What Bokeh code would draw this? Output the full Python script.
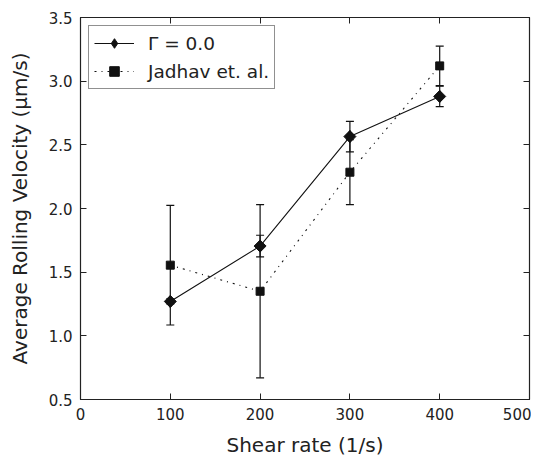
import math
from bokeh.plotting import figure
from bokeh.models import (ColumnDataSource, Whisker, TeeHead, Legend, LegendItem,
                          FixedTicker, NumeralTickFormatter, LinearAxis)
from bokeh.embed import file_html
from bokeh.resources import INLINE

shear = [100, 200, 300, 400]
gamma_v = [1.27, 1.705, 2.565, 2.88]
gamma_err = [0.02, 0.085, 0.12, 0.08]
jad_v = [1.555, 1.35, 2.285, 3.12]
jad_err = [0.47, 0.68, 0.255, 0.155]

x_ticks = [0, 100, 200, 300, 400, 500]
y_ticks = [0.5, 1.0, 1.5, 2.0, 2.5, 3.0, 3.5]

p = figure(width=531, height=459, output_backend="svg", toolbar_location=None,
           x_range=(0, 500), y_range=(0.5, 3.5), min_border_left=80,
           min_border_right=2, min_border_top=17, min_border_bottom=56)
p.background_fill_color = "white"
p.border_fill_color = "white"
p.grid.visible = False
p.outline_line_color = "#222222"
p.outline_line_width = 1.2

font = "DejaVu Sans"
for ax in (p.xaxis[0], p.yaxis[0]):
    ax.major_label_text_font = font
    ax.major_label_text_font_size = "15px"
    ax.major_label_text_color = "#222222"
    ax.axis_label_text_font = font
    ax.axis_label_text_font_size = "20px"
    ax.axis_label_text_font_style = "normal"
    ax.axis_label_text_color = "#222222"
    ax.major_tick_in = 6
    ax.major_tick_out = 0
    ax.minor_tick_in = 0
    ax.minor_tick_out = 0
    ax.axis_line_color = "#222222"
    ax.major_tick_line_color = "#222222"
p.xaxis.ticker = FixedTicker(ticks=x_ticks)
p.yaxis.ticker = FixedTicker(ticks=y_ticks)
p.xaxis.axis_label = "Shear rate (1/s)"
p.yaxis.axis_label = "Average Rolling Velocity (μm/s)"
p.yaxis.formatter = NumeralTickFormatter(format="0.0")
p.xaxis.major_label_standoff = 8
p.yaxis.major_label_standoff = 8
p.xaxis.axis_label_standoff = 10
p.yaxis.axis_label_standoff = 14

top = LinearAxis(ticker=FixedTicker(ticks=x_ticks), major_label_text_font_size="0px",
                 major_tick_in=6, major_tick_out=0, minor_tick_in=0, minor_tick_out=0,
                 axis_line_color="#222222", major_tick_line_color="#222222")
right = LinearAxis(ticker=FixedTicker(ticks=y_ticks), major_label_text_font_size="0px",
                   major_tick_in=6, major_tick_out=0, minor_tick_in=0, minor_tick_out=0,
                   axis_line_color="#222222", major_tick_line_color="#222222")
p.add_layout(top, "above")
p.add_layout(right, "right")

src_g = ColumnDataSource(dict(x=shear, y=gamma_v,
                              lo=[v - e for v, e in zip(gamma_v, gamma_err)],
                              hi=[v + e for v, e in zip(gamma_v, gamma_err)]))
src_j = ColumnDataSource(dict(x=shear, y=jad_v,
                              lo=[v - e for v, e in zip(jad_v, jad_err)],
                              hi=[v + e for v, e in zip(jad_v, jad_err)]))

for src in (src_j, src_g):
    w = Whisker(source=src, base="x", lower="lo", upper="hi", line_color="#111111",
                line_width=1.2,
                upper_head=TeeHead(size=8, line_color="#111111", line_width=1.2),
                lower_head=TeeHead(size=8, line_color="#111111", line_width=1.2))
    p.add_layout(w)

lj = p.line("x", "y", source=src_j, line_color="#111111", line_width=1.1, line_dash="2 5 1 5")
mj = p.scatter("x", "y", source=src_j, marker="square", size=8, fill_color="#111111",
               line_color="#111111")
lg = p.line("x", "y", source=src_g, line_color="#111111", line_width=1.1)
# diamond marker (used for the legend sample), covered by the rotated squares below
mg_leg = p.scatter("x", "y", source=src_g, marker="diamond", size=12,
                   fill_color="#111111", line_color="#111111")
mg = p.scatter("x", "y", source=src_g, marker="square", angle=math.pi / 4, size=8.5,
               fill_color="#111111", line_color="#111111")

legend = Legend(items=[LegendItem(label="Γ = 0.0", renderers=[lg, mg_leg]),
                       LegendItem(label="Jadhav et. al.", renderers=[lj, mj])],
                location="top_left")
legend.label_text_font = font
legend.label_text_font_size = "18.5px"
legend.label_text_color = "#222222"
legend.border_line_color = "#222222"
legend.border_line_width = 1.2
legend.background_fill_alpha = 1
legend.margin = 8
legend.padding = 5
legend.spacing = 4
legend.glyph_width = 40
legend.glyph_height = 24
legend.label_height = 24
legend.label_standoff = 14
p.add_layout(legend)

open("out.html", "w").write(file_html(p, INLINE))
